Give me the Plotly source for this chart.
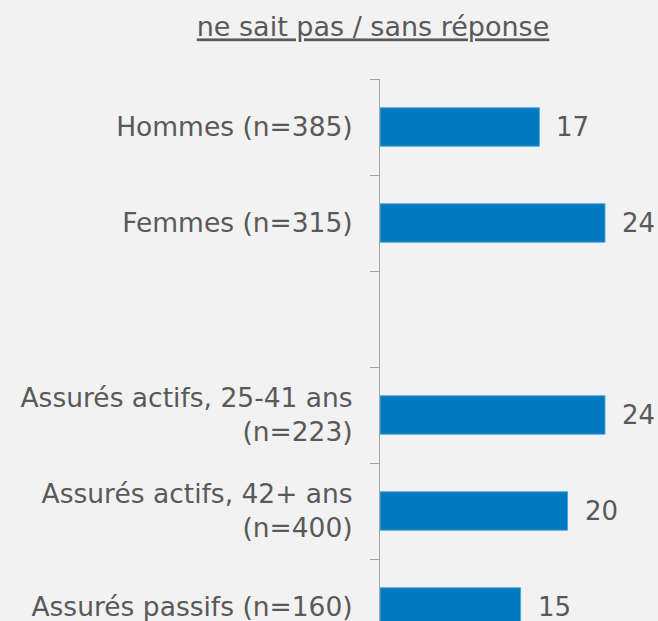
import plotly.graph_objects as go

title_text = "ne sait pas / sans réponse"
categories = [
    "Hommes (n=385)",
    "Femmes (n=315)",
    " ",
    "Assurés actifs, 25-41 ans<br>(n=223)",
    "Assurés actifs, 42+ ans<br>(n=400)",
    "Assurés passifs (n=160)",
]
values = [17, 24, None, 24, 20, 15]

W, H = 658, 621
FONT = "DejaVu Sans"
TXT = "#595959"
BG = "#f2f2f2"

fig = go.Figure()
fig.add_trace(go.Bar(
    x=values,
    y=categories,
    orientation="h",
    marker=dict(color="#0079c1", line=dict(color="#4ea6dc", width=1)),
    hoverinfo="skip",
))

for c, v in zip(categories, values):
    if v is None:
        continue
    fig.add_annotation(
        x=v, y=c, xref="x", yref="y",
        text=str(v), showarrow=False,
        xanchor="left", yanchor="middle", xshift=15,
        font=dict(family=FONT, size=26, color=TXT),
    )

left, top = 380, 79
plot_w = W - left
band = 96
px_per_unit = 9.375
x_max = plot_w / px_per_unit
y_bottom = -0.5 + (H - top) / band

fig.update_layout(
    width=W, height=H,
    margin=dict(l=left, r=0, t=top, b=0),
    paper_bgcolor=BG, plot_bgcolor=BG,
    showlegend=False,
    bargap=0.6,
    font=dict(family=FONT, size=26, color=TXT),
    title=dict(
        text="<u>" + title_text + "</u>",
        x=373 / W, xref="container", xanchor="center",
        y=1 - 27 / H, yref="container", yanchor="middle",
        font=dict(family=FONT, size=27, color=TXT),
    ),
    xaxis=dict(
        range=[0, x_max], visible=False, showgrid=False, zeroline=False,
    ),
    yaxis=dict(
        type="category",
        range=[y_bottom, -0.5],
        showline=True, linecolor="#a6a6a6", linewidth=1,
        ticks="outside", ticklen=9, tickcolor="#a6a6a6", tickwidth=1,
        tickson="boundaries",
        showgrid=False, zeroline=False,
        tickfont=dict(family=FONT, size=26.5, color=TXT),
        ticklabelstandoff=21,
    ),
)

fig.write_html(
    "out.html",
    config={"displayModeBar": False},
    post_script="document.body.style.margin='0';document.body.style.background='#f2f2f2';",
)
